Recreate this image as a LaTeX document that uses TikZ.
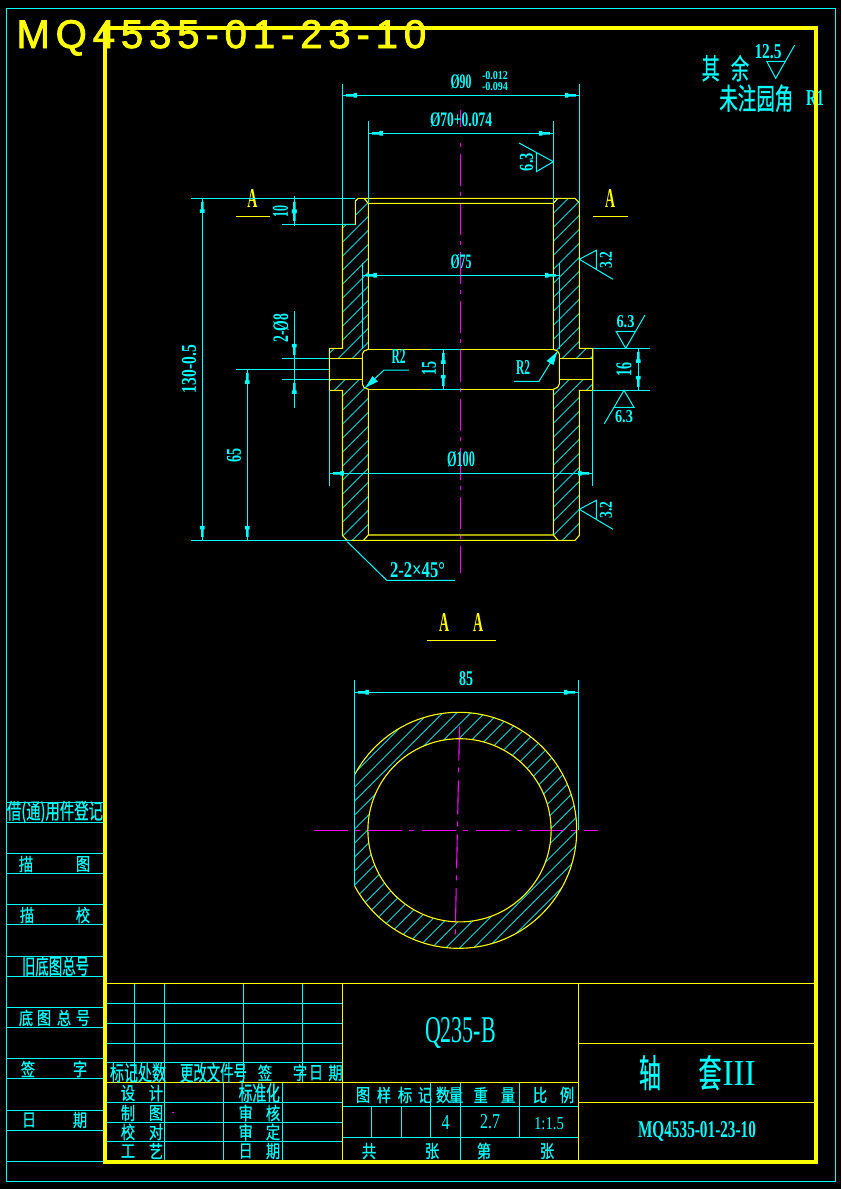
\documentclass[tikz,border=0pt]{standalone}
\usepackage{graphicx}
\usepackage{fontspec}
\setmainfont{Liberation Serif}
\newfontfamily\cjk[FakeBold=0.7]{Noto Sans CJK SC}
\newfontfamily\headfont[LetterSpace=14.8,FakeBold=2]{Liberation Sans}
\definecolor{cadc}{RGB}{0,255,255}
\definecolor{cady}{RGB}{255,255,0}
\definecolor{cadm}{RGB}{255,0,255}
\newcounter{tn}
\tikzset{
  cline/.style={draw=cadc,line width=1pt},
  yline/.style={draw=cady,line width=1.1pt},
  hatchline/.style={draw=cadc,line width=0.75pt},
  axisline/.style={draw=cadm,line width=1.1pt,dash pattern=on 34pt off 7pt on 5pt off 8pt},
  labeltext/.style={inner sep=0pt,outer sep=0pt,text=cadc,anchor=center},
  sectext/.style={inner sep=0pt,outer sep=0pt,text=cady,anchor=center}
}
% Latin text fitted to a box: [rotation]{x}{y}{w}{h}{text}
\newcommand\LT[6][0]{\stepcounter{tn}\node[labeltext,rotate=#1] (t\arabic{tn}) at (#2,#3) {\resizebox{#4pt}{#5pt}{\fontsize{14}{14}\selectfont\bfseries #6}};}
% Chinese text: {x}{y}{text}, one glyph about 14 x 18
\newcommand\CT[3]{\stepcounter{tn}\node[labeltext] (t\arabic{tn}) at (#1,#2) {\scalebox{.84}[1.05]{\fontsize{17}{17}\cjk #3}};}
% Chinese text fitted to width and height
\newcommand\CW[5]{\stepcounter{tn}\node[labeltext] (t\arabic{tn}) at (#1,#2) {\resizebox{#3pt}{#4pt}{\fontsize{17}{17}\cjk #5}};}
% Section letter
\newcommand\AT[2]{\stepcounter{tn}\node[sectext] (t\arabic{tn}) at (#1,#2) {\resizebox{10pt}{18pt}{\fontsize{14}{14}\bfseries A}};}
% CAD dimension arrow: {ext x}{ext y}{dx}{dy}
\newcommand\AH[4]{%
  \pgfmathsetmacro\ax{#1+3.5*#3}\pgfmathsetmacro\ay{#2+3.5*#4}%
  \pgfmathsetmacro\bx{#1+11*#3}\pgfmathsetmacro\by{#2+11*#4}%
  \pgfmathsetmacro\ex{#1+14.5*#3}\pgfmathsetmacro\ey{#2+14.5*#4}%
  \pgfmathsetmacro\px{#4}\pgfmathsetmacro\py{#3}%
  \fill[cadc] (\ax-1.3*\px,\ay-1.3*\py) -- (\bx-1.3*\px,\by-1.3*\py) -- (\bx-2.4*\px,\by-2.4*\py)
    -- (\ex-2.4*\px,\ey-2.4*\py) -- (\ex+2.4*\px,\ey+2.4*\py) -- (\bx+2.4*\px,\by+2.4*\py)
    -- (\bx+1.3*\px,\by+1.3*\py) -- (\ax+1.3*\px,\ay+1.3*\py) -- cycle;}
\newcommand\HL[4]{\foreach \k in {#2,...,#3}{\pgfmathsetmacro\cc{#1+14*\k}\draw[hatchline] ({\cc-150},150) -- ({\cc-#4},#4);}}
\begin{document}
\begin{tikzpicture}[x=1pt,y=-1pt]
\useasboundingbox (0,0) rectangle (841,1189);
\fill[black] (0,0) rectangle (841,1189);

% ---------- hatching of the long section
\begin{scope}
\clip (355.3,201) -- (358,198.3) -- (364,198.3) -- (368.3,203.3) -- (368.3,349.3) -- (362.3,354) -- (362.3,358.3)
  -- (329.3,358.3) -- (329.3,348.3) -- (342.5,348.3) -- (342.5,224.3) -- (355.3,224.3) -- cycle
  (329.3,379.3) -- (362.3,379.3) -- (362.3,384) -- (368.3,389.3) -- (368.3,535) -- (363.5,540.3) -- (347,540.3)
  -- (342.5,535.5) -- (342.5,390.3) -- (329.3,390.3) -- cycle
  (553.3,203.3) -- (558,198.3) -- (575,198.3) -- (579.3,202.7) -- (579.3,348.3) -- (592.7,348.3) -- (592.7,358.3)
  -- (559.3,358.3) -- (559.3,354) -- (553.3,349.3) -- cycle
  (592.7,379.3) -- (559.3,379.3) -- (559.3,384) -- (553.3,389.3) -- (553.3,535) -- (558,540.3) -- (575,540.3)
  -- (579.3,535.5) -- (579.3,390.3) -- (592.7,390.3) -- cycle;
\HL{10.7}{33}{83}{600}
\end{scope}

% ---------- hatching of the round section
\begin{scope}
\clip (354.3,700) rectangle (600,960);
\begin{scope}[even odd rule]
\clip (458.7,830.3) circle[radius=118pt] (459.5,830.3) circle[radius=91.6pt];
\HL{7.6}{70}{112}{1000}
\end{scope}
\end{scope}

% ---------- centre lines
\draw[cadm,line width=1.1pt] (460.6,110) -- (460.6,127);
\draw[cadm,line width=1.1pt,dash pattern=on 4pt off 7pt on 32pt off 6pt] (460.6,143) -- (460.6,573);
\draw[axisline] (314,830.3) -- (598,830.3);
\draw[axisline] (459.5,726.5) -- (455.2,937.5);
\fill[cadm] (172,1111.5) rectangle (173.5,1113);

% ---------- section outline
\draw[yline] (342.5,224.3) -- (355.3,224.3) -- (355.3,201) -- (358,198.3) -- (575,198.3) -- (579.3,202.7) -- (579.3,348.3)
  -- (592.7,348.3) -- (592.7,390.3) -- (579.3,390.3) -- (579.3,535.5) -- (575,540.3) -- (347,540.3) -- (342.5,535.5)
  -- (342.5,390.3) -- (329.3,390.3) -- (329.3,348.3) -- (342.5,348.3) -- cycle;
\draw[yline] (364,198.3) -- (368.3,203.3) -- (553.3,203.3) -- (558,198.3);
\draw[yline] (368.3,203.3) -- (368.3,349.3) -- (364,351) -- (362.3,354) -- (362.3,384) -- (364,387.5) -- (368.3,389.3) -- (368.3,535);
\draw[yline] (553.3,203.3) -- (553.3,349.3) -- (557.5,351) -- (559.3,354) -- (559.3,384) -- (557.5,387.5) -- (553.3,389.3) -- (553.3,535);
\draw[yline] (368.3,349.3) -- (553.3,349.3) (368.3,389.3) -- (553.3,389.3);
\draw[yline] (363.5,540.3) -- (368.3,535) -- (553.3,535) -- (558,540.3);
\draw[yline] (329.3,358.3) -- (362.3,358.3) (329.3,379.3) -- (362.3,379.3);
\draw[yline] (559.3,358.3) -- (592.7,358.3) (559.3,379.3) -- (592.7,379.3);

% ---------- round section outline
\begin{scope}
\clip (354.3,700) rectangle (600,960);
\draw[yline] (458.7,830.3) circle[radius=118pt];
\end{scope}
\draw[yline] (459.5,830.3) circle[radius=91.6pt];

% ---------- section marks
\draw[yline] (236,216.3) -- (270,216.3) (593,216.3) -- (628,216.3) (427,640.3) -- (496,640.3);
\AT{252.3}{198.5}\AT{610}{198.5}\AT{444}{622.7}\AT{478}{622.7}

% ---------- dimensions: extension and dimension lines
\draw[cline] (342.5,84) -- (342.5,224.3) (579.3,84) -- (579.3,203) (342.5,95.3) -- (579.3,95.3);
\draw[cline] (368.3,121) -- (368.3,203.3) (553.3,121) -- (553.3,203.3) (368.3,133.3) -- (553.3,133.3);
\draw[cline] (191,198.3) -- (355.3,198.3) (282,224.3) -- (355.3,224.3) (294.3,196) -- (294.3,226);
\draw[cline] (191,540.3) -- (351,540.3) (202.3,198.3) -- (202.3,540.3);
\draw[cline] (362.3,263) -- (362.3,349) (559.3,263) -- (559.3,349) (362.3,275.3) -- (559.3,275.3);
\draw[cline] (294.3,311) -- (294.3,407.7) (282,358.3) -- (329.3,358.3) (282,379.3) -- (329.3,379.3);
\draw[cline] (236,369.3) -- (329.3,369.3) (247.3,369.3) -- (247.3,540.3);
\draw[cline] (431,349.3) -- (461,349.3) (431,389.3) -- (461,389.3) (443.3,349.3) -- (443.3,389.3);
\draw[cline] (592.7,348.3) -- (650,348.3) (592.7,390.3) -- (650,390.3) (638.3,348.3) -- (638.3,390.3);
\draw[cline] (329.3,390.3) -- (329.3,485.7) (592.7,390.3) -- (592.7,485.7) (329.3,473.3) -- (592.7,473.3);
\draw[cline] (354.3,680) -- (354.3,886) (578.3,680) -- (578.3,830) (354.3,692.3) -- (578.3,692.3);
\AH{342.5}{95.3}{1}{0}\AH{579.3}{95.3}{-1}{0}
\AH{368.3}{133.3}{1}{0}\AH{553.3}{133.3}{-1}{0}
\AH{294.3}{198.3}{0}{1}\AH{294.3}{224.3}{0}{-1}
\AH{202.3}{198.3}{0}{1}\AH{202.3}{540.3}{0}{-1}
\AH{362.3}{275.3}{1}{0}\AH{559.3}{275.3}{-1}{0}
\AH{294.3}{358.3}{0}{-1}\AH{294.3}{379.3}{0}{1}
\AH{247.3}{369.3}{0}{1}\AH{247.3}{540.3}{0}{-1}
\AH{443.3}{349.3}{0}{1}\AH{443.3}{389.3}{0}{-1}
\AH{638.3}{348.3}{0}{1}\AH{638.3}{390.3}{0}{-1}
\AH{329.3}{473.3}{1}{0}\AH{592.7}{473.3}{-1}{0}
\AH{354.3}{692.3}{1}{0}\AH{578.3}{692.3}{-1}{0}

% radius and chamfer leaders
\draw[cline] (409,370) -- (384,370) -- (365.5,387.5);
\fill[cadc] (365.5,387.5) -- (372.5,376) -- (378,381.5) -- cycle;
\draw[cline] (514,381.3) -- (539,381.3) -- (557.3,351.7);
\fill[cadc] (557.3,351.7) -- (546.5,361) -- (553.5,365) -- cycle;
\draw[cline] (347.3,541.7) -- (386.7,580.3) -- (455,580.3);

% surface finish symbols
\draw[cline] (519,143) -- (553.3,161.7) -- (536.3,171.7) -- (536.3,152);
\draw[cline] (613,279.3) -- (579.3,259.3) -- (596.3,250.3) -- (596.3,270);
\draw[cline] (613,529.3) -- (579.3,509.3) -- (596.3,500.3) -- (596.3,520);
\draw[cline] (645,315) -- (625.7,348.3) -- (616,331.3) -- (635.3,331.3);
\draw[cline] (604.3,423.7) -- (624,390.3) -- (634,407.3) -- (614,407.3);
\draw[cline] (794.7,45) -- (775.7,78.3) -- (766.7,61.3) -- (785.3,61.3);

% dimension texts
\LT{461}{82}{21}{14}{Ø90}
\LT{495}{76}{26}{8}{-0.012}
\LT{495}{86.5}{26}{8}{-0.094}
\LT{461}{120}{62}{14}{Ø70+0.074}
\LT[90]{526.5}{162}{18}{13}{6.3}
\LT[90]{280.5}{211}{12}{15}{10}
\LT{461}{261.5}{21}{14}{Ø75}
\LT[90]{606}{260}{17}{12}{3.2}
\LT[90]{606}{510}{17}{12}{3.2}
\LT{625.5}{322}{18}{12}{6.3}
\LT{624}{417}{18}{12}{6.3}
\LT[90]{281}{328}{29}{15}{2-Ø8}
\LT[90]{189}{369}{48}{14}{130-0.5}
\LT{398.7}{356.7}{14}{14}{R2}
\LT{523}{367}{14}{14}{R2}
\LT[90]{429}{368.5}{14}{14}{15}
\LT[90]{624}{369}{14}{15}{16}
\LT[90]{234}{455}{14}{14}{65}
\LT{461}{459.5}{28}{15}{Ø100}
\LT{417.5}{570}{55}{15}{2-2×45°}
\LT{466}{679}{14}{14}{85}

% note top right
\CW{710.7}{68.3}{18}{24}{其}
\CW{740}{68.3}{18}{24}{余}
\LT{768}{52}{27}{14}{12.5}
\CW{756.3}{98.3}{74}{25}{未注园角}
\LT{815}{98}{18}{15}{R1}

% drawing number top left
\stepcounter{tn}\node[sectext,anchor=base west] (t\arabic{tn}) at (16.5,48) {\fontsize{40}{40}\headfont MQ4535-01-23-10};

% ---------- title block
\draw[cline] (105,1003.3) -- (342.7,1003.3) (105,1023.3) -- (342.7,1023.3) (105,1043.3) -- (342.7,1043.3) (105,1062.3) -- (342.7,1062.3);
\draw[cline] (134.3,983.3) -- (134.3,1082.3) (164.3,983.3) -- (164.3,1161) (243.3,983.3) -- (243.3,1082.3) (302.3,983.3) -- (302.3,1082.3);
\draw[cline] (223.3,1082.3) -- (223.3,1161) (282.3,1082.3) -- (282.3,1161);
\draw[cline] (105,1102.3) -- (342.7,1102.3) (105,1122.3) -- (342.7,1122.3) (105,1141.3) -- (342.7,1141.3);
\draw[cline] (342.7,1106.7) -- (578.6,1106.7) (342.7,1137.3) -- (578.6,1137.3);
\draw[cline] (371.7,1106.7) -- (371.7,1137.3) (401.7,1106.7) -- (401.7,1137.3) (430.7,1082.3) -- (430.7,1137.3);
\draw[cline] (460.3,1082.3) -- (460.3,1161) (519.3,1082.3) -- (519.3,1137.3);
\draw[yline] (105,983.3) -- (816,983.3) (342.7,983.3) -- (342.7,1161) (578.6,983.3) -- (578.6,1161);
\draw[yline] (578.6,1043.3) -- (816,1043.3) (578.6,1102.3) -- (816,1102.3) (105,1082.3) -- (578.6,1082.3);

\CW{138}{1072.7}{56}{18}{标记处数}
\CW{213.5}{1072.7}{67}{18}{更改文件号}
\CT{265}{1072.7}{签}\CT{300}{1072.7}{字}\CT{316}{1072.7}{日}\CT{335.5}{1072.7}{期}
\CT{128}{1093}{设}\CT{156}{1093}{计}
\CT{128}{1113}{制}\CT{156}{1113}{图}
\CT{128}{1132}{校}\CT{156}{1132}{对}
\CT{128}{1151}{工}\CT{156}{1151}{艺}
\CW{259.3}{1093}{41}{18}{标准化}
\CT{245.7}{1113}{审}\CT{273}{1113}{核}
\CT{245.7}{1132}{审}\CT{273}{1132}{定}
\CT{245.7}{1151}{日}\CT{273}{1151}{期}
\CT{363}{1095}{图}\CT{384}{1095}{样}\CT{405}{1095}{标}\CT{425}{1095}{记}\CT{443}{1095}{数}\CT{456}{1095}{量}
\CT{480.7}{1095}{重}\CT{508}{1095}{量}\CT{540}{1095}{比}\CT{567}{1095}{例}
\LT{445.7}{1122}{8}{14}{\mdseries 4}
\LT{490}{1122}{20}{14}{\mdseries 2.7}
\LT{549}{1124}{30}{12}{\mdseries 1:1.5}
\CT{369}{1151}{共}\CT{432}{1151}{张}\CT{484}{1151}{第}\CT{547}{1151}{张}
\LT{460.5}{1033}{71}{25}{\mdseries Q235-B}
\CW{650}{1072.7}{22}{32}{轴}
\CW{710}{1072.7}{23}{32}{套}
\LT{739}{1073.5}{33}{24}{\mdseries III}
\LT{697}{1131}{118}{16}{MQ4535-01-23-10}

% ---------- left column
\foreach \yy in {802.3,822.3,853.3,873.3,904.3,924.3,956.3,976.3,1007.3,1027.3,1058.3,1078.3,1110.3,1130.3,1161.3}
  \draw[cline] (6.5,\yy) -- (105,\yy);
\CW{55}{812}{96}{18}{借(通)用件登记}
\CT{26}{864}{描}\CT{83}{864}{图}
\CT{27}{915}{描}\CT{83}{915}{校}
\CW{55.5}{966}{67}{18}{旧底图总号}
\CT{26}{1018}{底}\CT{44}{1018}{图}\CT{64}{1018}{总}\CT{83}{1018}{号}
\CT{28}{1069}{签}\CT{80}{1069}{字}
\CT{29}{1120}{日}\CT{80}{1120}{期}

% ---------- frames
\draw[cline] (6.5,8.5) rectangle (835.5,1181.5);
\draw[draw=cady,line width=3.6pt] (105,28) rectangle (816,1162);
\end{tikzpicture}
\end{document}
